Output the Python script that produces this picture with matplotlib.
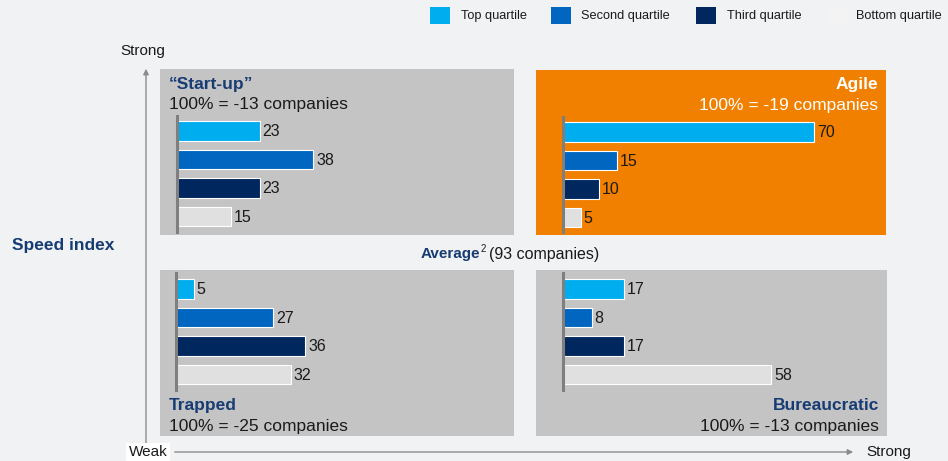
import matplotlib
matplotlib.use("Agg")
import matplotlib.pyplot as plt
from matplotlib.patches import Rectangle

plt.rcParams['font.family'] = ['Liberation Sans', 'DejaVu Sans']

# данные
quartiles = ["Top quartile", "Second quartile", "Third quartile", "Bottom quartile"]
colors = ["#00AEEF", "#0066C0", "#00285E", "#E0E0E0"]

startup_vals = [23, 38, 23, 15]
agile_vals = [70, 15, 10, 5]
trapped_vals = [5, 27, 36, 32]
bureau_vals = [17, 8, 17, 58]

panel_titles = ["\u201cStart-up\u201d", "Agile", "Trapped", "Bureaucratic"]
panel_counts = [-13, -19, -25, -13]

W, H = 948, 461
bg = "#F0F2F4"
navy = "#173B73"
txt = "#1A1A1A"
axis_gray = "#8C8C8C"
px_per_unit = 3.59

fig = plt.figure(figsize=(W / 100, H / 100), dpi=100, facecolor=bg)

# общая подложка в пикселях для подписей и осей
base = fig.add_axes([0, 0, 1, 1])
base.set_xlim(0, W)
base.set_ylim(H, 0)
base.axis("off")


def panel(x0, y0, x1, y1, vals, title, count, face, top, right, base_px):
    ax = fig.add_axes([x0 / W, 1 - y1 / H, (x1 - x0) / W, (y1 - y0) / H])
    ax.set_facecolor(face)
    for s in ax.spines.values():
        s.set_visible(False)
    ax.set_xticks([])
    ax.set_yticks([])
    w = x1 - x0
    h = y1 - y0
    left = base_px / px_per_unit
    ax.set_xlim(-left, (w - base_px) / px_per_unit)
    step = 28.5
    if top:
        first = 62
    else:
        first = 19
    ax.set_ylim((h - first) / step, -first / step)
    ypos = list(range(len(vals)))
    ax.barh(ypos, vals, height=0.7, color=colors, edgecolor="white", linewidth=0.8, zorder=2)
    for y, v in zip(ypos, vals):
        ax.text(v + 0.8, y + 0.03, str(v), va="center", ha="left", fontsize=11.5, color=txt, zorder=3)
    if top:
        ymin, ymax = 0.018, 0.717
    else:
        ymin, ymax = 0.277, 0.982
    ax.axvline(0, ymin=ymin, ymax=ymax, color="#7F7F7F", linewidth=2.2, zorder=4)

    tcol = "white" if right and top else navy
    scol = "white" if right and top else txt
    if right:
        xa, ha = 1 - 8 / w, "right"
    else:
        xa, ha = 9 / w, "left"
    if top:
        ty, sy = 1 - 15 / h, 1 - 35 / h
    else:
        ty, sy = 31 / h, 10 / h
    ax.text(xa, ty, title, transform=ax.transAxes, ha=ha, va="center",
            fontsize=12.5, fontweight="bold", color=tcol)
    ax.text(xa, sy, f"100% = {count} companies", transform=ax.transAxes, ha=ha,
            va="center", fontsize=12.5, color=scol)
    return ax


panel(160, 69, 514, 235, startup_vals, panel_titles[0], panel_counts[0], "#C4C4C4", True, False, 17)
panel(536, 70, 886, 235, agile_vals, panel_titles[1], panel_counts[1], "#F28000", True, True, 27)
panel(160, 270, 514, 436, trapped_vals, panel_titles[2], panel_counts[2], "#C4C4C4", False, False, 16)
panel(536, 270, 887, 436, bureau_vals, panel_titles[3], panel_counts[3], "#C4C4C4", False, True, 27)

# оси "Speed index"
arrow = dict(arrowstyle="-|>", color=axis_gray, lw=1.0, mutation_scale=8)
base.annotate("", xy=(146, 66), xytext=(146, H), arrowprops=arrow)
base.annotate("", xy=(856, 452), xytext=(172, 452), arrowprops=arrow)
base.text(143, 51, "Strong", ha="center", va="center", fontsize=11, color=txt)
base.text(866, 452, "Strong", ha="left", va="center", fontsize=11, color=txt)
base.text(148, 452, "Weak", ha="center", va="center", fontsize=11, color=txt,
          bbox=dict(facecolor="white", edgecolor="none", pad=1.5))
base.text(12, 245, "Speed index", ha="left", va="center", fontsize=12.5,
          fontweight="bold", color=navy)

# Average² (93 companies)
r = fig.canvas.get_renderer()
t1 = base.text(421, 254, "Average", ha="left", va="center", fontsize=11,
               fontweight="bold", color=navy)
bb = t1.get_window_extent(renderer=r)
t2 = base.text(bb.x1 + 0.5, 249, "2", ha="left", va="center", fontsize=7, color=txt)
bb2 = t2.get_window_extent(renderer=r)
base.text(bb2.x1 + 3, 254, "(93 companies)", ha="left", va="center", fontsize=11.5, color=txt)

# легенда
leg_x = [430, 551, 696, 827]
leg_tx = [461, 581, 727, 856]
leg_cols = colors[:3] + ["#F3F3F3"]
for sx, tx, c, lab in zip(leg_x, leg_tx, leg_cols, quartiles):
    base.add_patch(Rectangle((sx, 7), 20, 17, facecolor=c, edgecolor="none"))
    base.text(tx, 16, lab, ha="left", va="center", fontsize=9.2, color=txt)

fig.savefig("out.png", dpi=100, facecolor=bg)
